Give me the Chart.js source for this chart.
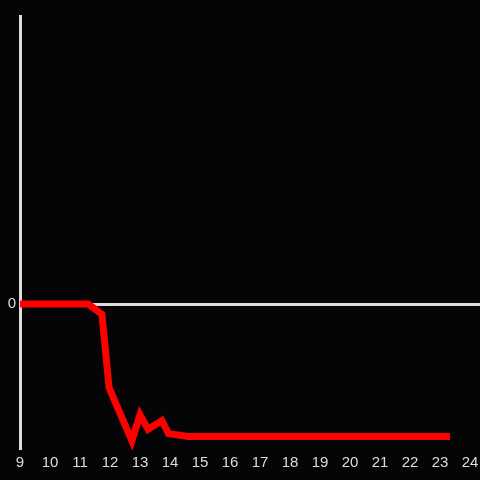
<!DOCTYPE html>
<html>
<head>
<meta charset="utf-8">
<script src="https://cdn.jsdelivr.net/npm/chart.js@4"></script>
<style>
  html, body { margin: 0; padding: 0; background: #050407; }
  #wrap { width: 480px; height: 480px; }
</style>
</head>
<body>
<div id="wrap"><canvas id="chart" width="480" height="480"></canvas></div>
<script>
// time of day (hours) and the value at each time
const hours = [9, 11.27, 11.73, 11.97, 12.17, 12.73, 13.0, 13.27, 13.73, 13.95, 14.6, 23.33];
const values = [0, 0, -0.07, -0.58, -0.68, -0.95, -0.77, -0.87, -0.81, -0.9, -0.92, -0.92];
const xTicks = [9, 10, 11, 12, 13, 14, 15, 16, 17, 18, 19, 20, 21, 22, 23, 24];
const yTicks = [0];

const bg = {
  id: 'bg',
  beforeDraw(chart) {
    const c = chart.ctx;
    c.save();
    c.fillStyle = '#050407';
    c.fillRect(0, 0, chart.width, chart.height);
    c.restore();
  }
};

new Chart(document.getElementById('chart'), {
  type: 'line',
  data: {
    datasets: [{
      data: hours.map((h, i) => ({ x: h, y: values[i] })),
      borderColor: '#ff0000',
      borderWidth: 7,
      pointRadius: 0,
      tension: 0,
      clip: false
    }]
  },
  options: {
    responsive: false,
    animation: false,
    layout: { padding: { top: 16, right: 0 } },
    plugins: { legend: { display: false }, tooltip: { enabled: false } },
    scales: {
      x: {
        type: 'linear',
        min: 9,
        max: 24.333,
        afterBuildTicks: axis => { axis.ticks = xTicks.map(v => ({ value: v })); },
        afterFit: axis => { axis.height = 32; axis.paddingLeft = 0; axis.paddingRight = 0; },
        grid: { display: false, drawTicks: false },
        border: { display: false },
        ticks: { color: '#dddddd', padding: 6, maxRotation: 0, autoSkip: false, font: { family: 'Liberation Sans', size: 15 } }
      },
      y: {
        min: -1,
        max: 2,
        afterBuildTicks: axis => { axis.ticks = yTicks.map(v => ({ value: v })); },
        afterFit: axis => { axis.width = 20; },
        grid: { color: '#dddddd', lineWidth: 3, drawTicks: false },
        border: { display: true, color: '#dddddd', width: 3 },
        ticks: { color: '#dddddd', padding: 4, font: { family: 'Liberation Sans', size: 15 } }
      }
    }
  },
  plugins: [bg]
});
</script>
</body>
</html>
